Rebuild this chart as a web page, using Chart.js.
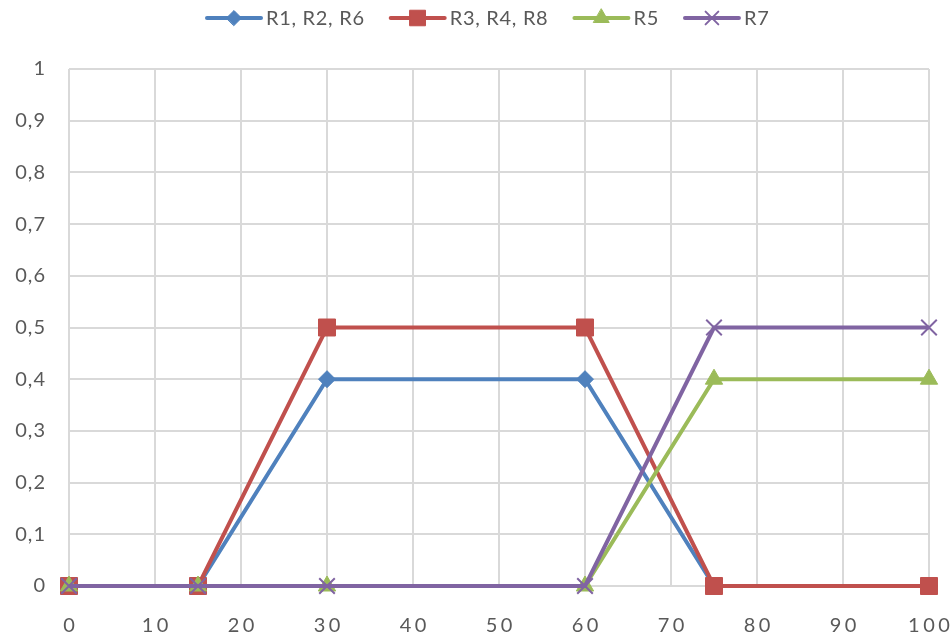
<!DOCTYPE html>
<html>
<head>
<meta charset="utf-8">
<script src="https://cdn.jsdelivr.net/npm/chart.js@4"></script>
<style>
  html, body { margin: 0; padding: 0; background: #fff; }
  #wrap { width: 951px; height: 635px; position: relative; }
</style>
</head>
<body>
<div id="wrap"><canvas id="c"></canvas></div>
<script>
// x positions shared by every series
const xValues = [0, 15, 30, 60, 75, 100];

// series values
const seriesNames = ['R1, R2, R6', 'R3, R4, R8', 'R5', 'R7'];
const r1r2r6 = [0, 0, 0.4, 0.4, 0, 0];
const r3r4r8 = [0, 0, 0.5, 0.5, 0, 0];
const r5 = [0, 0, 0, 0, 0.4, 0.4];
const r7 = [0, 0, 0, 0, 0.5, 0.5];

// axis ticks
const xTicks = [0, 10, 20, 30, 40, 50, 60, 70, 80, 90, 100];
const yTicks = [0, 0.1, 0.2, 0.3, 0.4, 0.5, 0.6, 0.7, 0.8, 0.9, 1];

const colors = ['#4F81BD', '#C0504D', '#9BBB59', '#8064A2'];
const markers = [
  { style: 'rectRot', radius: 8.5 },
  { style: 'rect', radius: 12 },
  { style: 'triangle', radius: 10 },
  { style: 'crossRot', radius: 11 }
];
const values = [r1r2r6, r3r4r8, r5, r7];

const FONT = 'Lato, "Open Sans", sans-serif';
const TEXT = '#595959';

const datasets = values.map((vals, i) => ({
  label: seriesNames[i],
  data: vals.map((v, k) => ({ x: xValues[k], y: v })),
  borderColor: colors[i],
  backgroundColor: colors[i],
  borderWidth: 4,
  pointStyle: markers[i].style,
  pointRadius: markers[i].radius,
  pointHoverRadius: markers[i].radius,
  pointBorderWidth: markers[i].style === 'crossRot' ? 2 : 1,
  pointBackgroundColor: colors[i],
  pointBorderColor: colors[i],
  tension: 0,
  clip: false,
  order: 4 - i
}));

// letter spacing for the axis text drawn by Chart.js
const spacing = {
  id: 'spacing',
  beforeDraw(chart) { chart.ctx.letterSpacing = '1px'; }
};

// x tick labels, widely spaced, placed through the x scale
const xLabels = {
  id: 'xLabels',
  afterDraw(chart) {
    const ctx = chart.ctx;
    const sx = chart.scales.x;
    ctx.save();
    ctx.font = '20px ' + FONT;
    ctx.letterSpacing = '3.5px';
    ctx.fillStyle = TEXT;
    ctx.textAlign = 'left';
    ctx.textBaseline = 'middle';
    xTicks.forEach(v => {
      const s = String(v);
      const w = ctx.measureText(s).width - 3.5;
      ctx.fillText(s, sx.getPixelForValue(v) - w / 2, 626);
    });
    ctx.restore();
  }
};

// legend drawn as line + marker samples above the plot
const lineLegend = {
  id: 'lineLegend',
  afterDraw(chart) {
    const ctx = chart.ctx;
    ctx.save();
    ctx.font = '20px ' + FONT;
    ctx.letterSpacing = '0.7px';
    ctx.textBaseline = 'middle';
    const lineLen = 54, gap = 5, itemGap = 26;
    const widths = seriesNames.map(n => lineLen + gap + ctx.measureText(n).width);
    let x = 207;
    const y = 18;
    seriesNames.forEach((name, i) => {
      ctx.strokeStyle = colors[i];
      ctx.lineWidth = 4;
      ctx.lineCap = 'round';
      ctx.beginPath();
      ctx.moveTo(x, y);
      ctx.lineTo(x + lineLen, y);
      ctx.stroke();
      const m = markers[i];
      ctx.fillStyle = colors[i];
      ctx.strokeStyle = colors[i];
      ctx.lineWidth = m.style === 'crossRot' ? 2 : 1;
      Chart.helpers.drawPoint(ctx, {
        pointStyle: m.style,
        radius: m.style === 'rect' ? 11 : (m.style === 'rectRot' ? 7.5 : 9),
        rotation: 0,
        borderWidth: ctx.lineWidth
      }, x + lineLen / 2, y);
      ctx.fillStyle = TEXT;
      ctx.textAlign = 'left';
      ctx.fillText(name, x + lineLen + gap, y + 1);
      x += widths[i] + itemGap;
    });
    ctx.restore();
  }
};

new Chart(document.getElementById('c'), {
  type: 'line',
  data: { datasets },
  options: {
    responsive: true,
    maintainAspectRatio: false,
    animation: false,
    layout: { padding: { top: 69, right: 22, left: 0, bottom: 0 } },
    plugins: { legend: { display: false }, tooltip: { enabled: false } },
    scales: {
      x: {
        type: 'linear',
        min: 0, max: 100,
        afterBuildTicks: s => { s.ticks = xTicks.map(v => ({ value: v })); },
        afterFit: s => { s.height = 49; s.paddingLeft = 0; s.paddingRight = 0; },
        ticks: { display: false },
        grid: { color: '#D9D9D9', lineWidth: 2, drawTicks: false },
        border: { display: false }
      },
      y: {
        min: 0, max: 1,
        afterBuildTicks: s => { s.ticks = yTicks.map(v => ({ value: v })); },
        afterFit: s => { s.width = 69; s.paddingTop = 0; s.paddingBottom = 0; },
        ticks: {
          color: TEXT,
          font: { family: FONT, size: 20 },
          padding: 23,
          callback: v => String(Math.round(v * 10) / 10).replace('.', ',')
        },
        grid: { color: '#D9D9D9', lineWidth: 2, drawTicks: false },
        border: { display: false }
      }
    }
  },
  plugins: [spacing, xLabels, lineLegend]
});
</script>
</body>
</html>
